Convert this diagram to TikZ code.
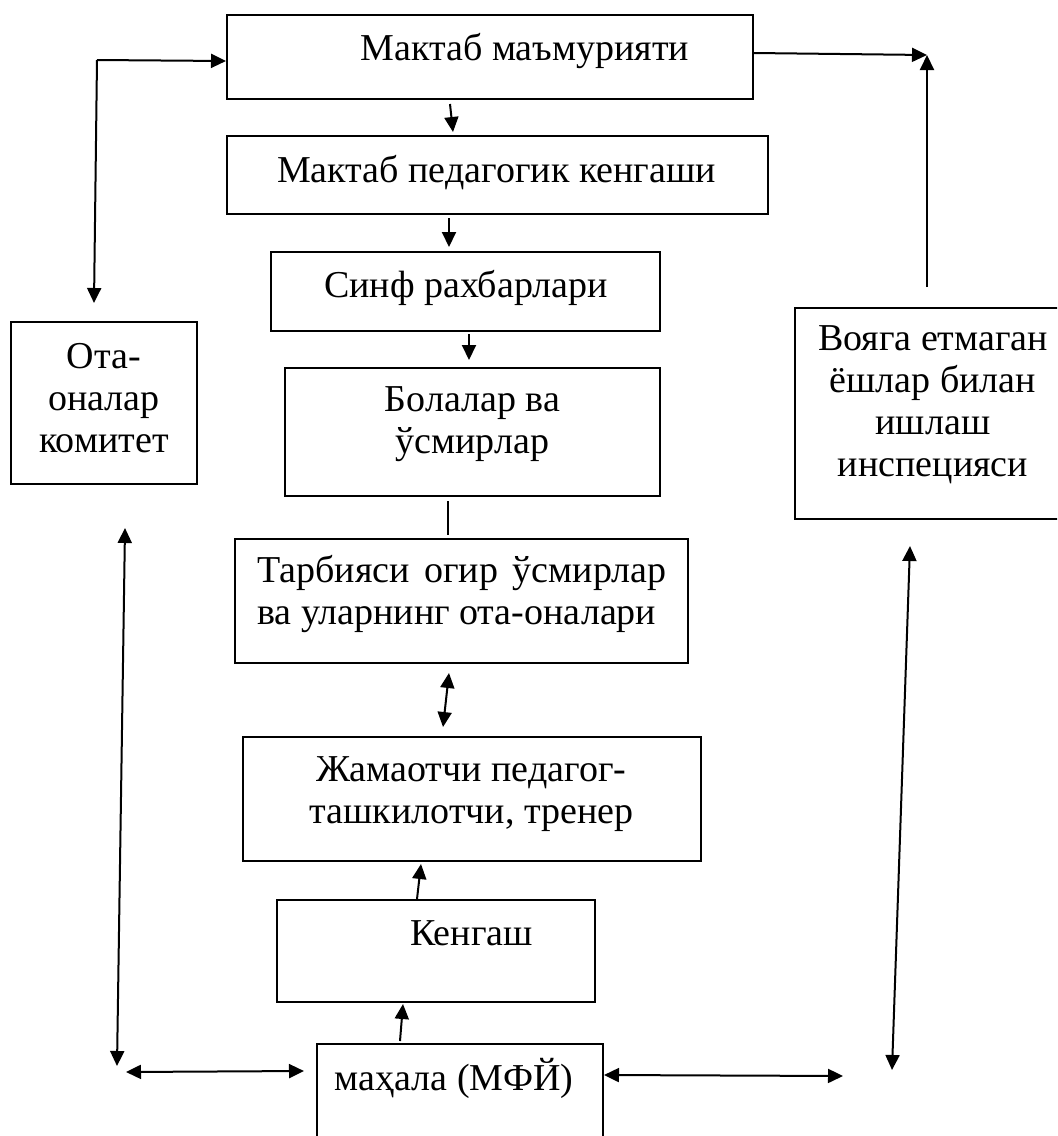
\documentclass[tikz,border=0pt]{standalone}
\usepackage{fontspec}
\setmainfont{Liberation Serif}
\usetikzlibrary{arrows.meta,calc}

\begin{document}
\begin{tikzpicture}[x=0.5pt, y=-0.5pt,
  unit/.style={rectangle, draw=black, line width=1pt, inner sep=0pt},
  txt/.style={font=\fontsize{19pt}{21pt}\selectfont, align=center, inner sep=0pt, anchor=base},
  conn/.style={-{Triangle[length=7.5pt,width=7pt]}, line width=1pt, draw=black},
  both/.style={{Triangle[length=7.5pt,width=7pt]}-{Triangle[length=7.5pt,width=7pt]}, line width=1pt, draw=black},
  link/.style={line width=0.7pt, draw=black}
]
\useasboundingbox (0,0) rectangle (1057,1136);
\clip (0,0) rectangle (1057,1136);

% boxes
\node[unit, minimum width=263pt,   minimum height=42pt]   (adm)  at (490,57)      {};
\node[unit, minimum width=270.5pt, minimum height=39pt]   (ped)  at (497.5,175)   {};
\node[unit, minimum width=194.5pt, minimum height=39.5pt] (sinf) at (465.5,291.5) {};
\node[unit, minimum width=187.5pt, minimum height=64pt]   (bol)  at (472.5,432)   {};
\node[unit, minimum width=226.5pt, minimum height=62pt]   (tarb) at (461.5,601)   {};
\node[unit, minimum width=229pt,   minimum height=62pt]   (jam)  at (472,799)     {};
\node[unit, minimum width=159pt,   minimum height=51pt]   (keng) at (436,951)     {};
\node[unit, minimum width=143pt,   minimum height=60pt]   (mah)  at (460,1104)    {};
\node[unit, minimum width=93pt,    minimum height=81pt]   (ota)  at (104,403)     {};
\node[unit, minimum width=133.5pt, minimum height=105.5pt] (voy) at (928.5,413.5) {};

% texts (base = last line)
\node[txt] (t-adm)  at (525,60)   {Мактаб маъмурияти};
\node[txt] (t-ped)  at (496.5,182) {Мактаб педагогик кенгаши};
\node[txt] (t-sinf) at (466,297)  {Синф рахбарлари};
\node[txt] (t-bol)  at (472.5,453) {Болалар ва\\ўсмирлар};
\node[txt, align=left, anchor=base west] (t-tarb) at (257,624)
  {\makebox[204.5pt][s]{Тарбияси огир ўсмирлар}\\ва уларнинг ота-оналари};
\node[txt] (t-jam)  at (471.5,823) {Жамаотчи педагог-\\ташкилотчи, тренер};
\node[txt] (t-keng) at (471.5,945) {Кенгаш};
\node[txt] (t-mah)  at (454,1090) {маҳала (МФЙ)};
\node[txt] (t-ota)  at (104,452)  {Ота-\\оналар\\комитет};
\node[txt] (t-voy)  at (933,476)  {Вояга етмаган\\ёшлар билан\\ишлаш\\инспецияси};

% free ends
\coordinate (lcorner) at (97,60);
\coordinate (lend)    at (94,303);
\coordinate (lbot)    at (117,1066);
\coordinate (lmid)    at (126,1072);
\coordinate (rmid)    at (843,1076);
\coordinate (rbot)    at (892,1070);
\coordinate (rtop)    at (927,55);

% connectors
\draw[conn] ($(adm.south)+(-40,4)$) -- ($(ped.north)+(-44.5,-3)$);
\draw[conn] ($(ped.south)+(-48.5,3)$) -- ($(sinf.north)+(-16.5,-4)$);
\draw[conn] ($(sinf.south)+(3.5,2)$) -- ($(bol.north)+(-3.5,-7)$);
\draw[link] ($(bol.south)+(-24.5,4)$) -- ($(tarb.north)+(-13.5,-3)$);
\draw[both] ($(tarb.south)+(-12.5,9)$) -- ($(jam.north)+(-29,-9)$);
\draw[conn] ($(keng.north)+(-19,0)$) -- ($(jam.south)+(-51,2)$);
\draw[conn] ($(mah.north)+(-60,-2)$) -- ($(keng.south)+(-33,1)$);

\draw[conn] (lcorner) -- ($(adm.west)+(0,4)$);
\draw[conn] (lcorner) -- (lend);
\draw[both] ($(ota.south)+(21,43)$) -- (lbot);
\draw[both] (lmid) -- ($(mah.north west)+(-12,28)$);
\draw[both] ($(mah.north east)+(0,32)$) -- (rmid);
\draw[both] ($(voy.south)+(-18.5,26)$) -- (rbot);
\draw[conn] ($(adm.east)+(0,-4)$) -- (rtop);
\draw[conn] ($(voy.north)+(-1.5,-20)$) -- (rtop);
\end{tikzpicture}
\end{document}
